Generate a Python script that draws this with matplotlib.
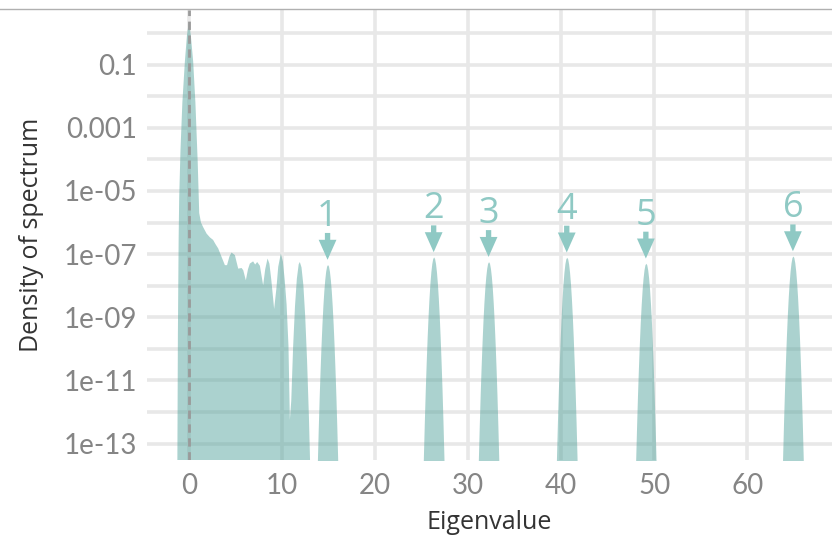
import matplotlib
matplotlib.use("Agg")
import matplotlib.pyplot as plt
from matplotlib.lines import Line2D
import numpy as np

plt.rcParams['font.family'] = ['Lato', 'DejaVu Sans']

# bulk of the spectrum: eigenvalue vs log10 density
bulk_x = [-1.25, -1.18, -1.10, -1.04, -0.90, -0.70, -0.43, -0.20, 0.00, 0.20,
          0.46, 0.70, 0.95, 1.11, 1.30, 1.54, 1.90, 2.26, 2.60, 2.85,
          3.15, 3.50, 3.87, 4.10, 4.35, 4.58, 4.94, 5.30, 5.66, 5.84,
          6.12, 6.35, 6.55, 6.90, 7.12, 7.34, 7.63, 7.98, 8.20, 8.45,
          8.65, 8.85, 9.05, 9.16, 9.40, 9.60, 9.88, 10.10, 10.30, 10.50,
          10.70, 10.85, 11.00, 11.20, 11.40, 11.60, 11.80, 11.92, 12.10, 12.30,
          12.50, 12.70, 12.90, 13.05, 13.15]
bulk_log = [-14.5, -9.5, -6.5, -5.2, -3.7, -2.2, -0.9, -0.05, 0.35, -0.05,
            -0.9, -2.2, -4.1, -5.7, -6.0, -6.15, -6.35, -6.47, -6.55, -6.68,
            -6.82, -7.08, -7.35, -7.35, -7.08, -6.95, -7.03, -7.46, -7.44, -7.51,
            -7.83, -7.48, -7.3, -7.23, -7.33, -7.25, -7.37, -7.99, -7.48, -7.14,
            -7.3, -7.8, -8.4, -8.74, -8.1, -7.4, -6.98, -7.23, -7.83, -8.6,
            -9.9, -12.25, -11.65, -9.94, -8.66, -7.78, -7.32, -7.25, -7.42, -7.98,
            -8.98, -10.38, -12.18, -13.9, -15.3]

# isolated outlier eigenvalues and their peak height (log10 density)
outlier_x = [14.9, 26.3, 32.2, 40.6, 49.1, 64.9]
outlier_log = [-7.33, -7.09, -7.24, -7.10, -7.29, -7.06]
outlier_labels = ['1', '2', '3', '4', '5', '6']

# shape of one outlier bump: distance from centre vs drop in decades
peak_dx = [0.0, 0.1, 0.2, 0.3, 0.4, 0.5, 0.6, 0.7, 0.8, 0.9, 1.0, 1.1, 1.2, 1.3]
peak_drop = [0.0, 0.05, 0.21, 0.47, 0.83, 1.3, 1.87, 2.55, 3.33, 4.2, 5.2, 6.3, 7.5, 8.8]

y_major = [-1, -3, -5, -7, -9, -11, -13]
y_labels = ['0.1', '0.001', '1e-05', '1e-07', '1e-09', '1e-11', '1e-13']
y_minor = [0, -2, -4, -6, -8, -10, -12]
x_ticks = [0, 10, 20, 30, 40, 50, 60]

fill_col = '#4da199'
mark_col = '#8fc9c4'
grid_col = '#e8e8e8'

fig = plt.figure(figsize=(8.32, 5.37), dpi=100)
ax = fig.add_axes([147 / 832, 77 / 537, 685 / 832, 450 / 537])

ax.set_yscale('log')
ax.set_xlim(-4.5, 69.1)
ax.set_ylim(10 ** -13.52, 10 ** 0.73)

floor = 1e-20
bx = np.array(bulk_x)
ax.fill_between(bx, 10 ** np.array(bulk_log), floor, color=fill_col, alpha=0.47, lw=0, zorder=2)

dx = np.array(peak_dx)
drop = np.array(peak_drop)
px = np.concatenate([-dx[::-1], dx[1:]])
pd = np.concatenate([drop[::-1], drop[1:]])
for cx, top in zip(outlier_x, outlier_log):
    ax.fill_between(cx + px, 10 ** (top - pd), floor, color=fill_col, alpha=0.47, lw=0, zorder=2)

# arrows and numbers over the outliers
for cx, top, lab in zip(outlier_x, outlier_log, outlier_labels):
    ax.annotate('', xy=(cx, 10 ** (top + 0.15)), xytext=(cx, 10 ** (top + 1.0)),
                arrowprops=dict(arrowstyle='simple,head_width=0.8,head_length=0.9,tail_width=0.24',
                                color=mark_col, lw=0, shrinkA=0, shrinkB=0, mutation_scale=16),
                zorder=4)
    ax.text(cx, 10 ** (top + 1.22), lab, ha='center', va='baseline',
            fontsize=26, color=mark_col, family=['Open Sans', 'DejaVu Sans'], zorder=4)

ax.axvline(0, color='#9a9a9a', lw=2, ls=(0, (3, 2)), zorder=3)

ax.set_yticks([10.0 ** e for e in y_major])
ax.set_yticklabels(y_labels)
ax.set_yticks([10.0 ** e for e in y_minor], minor=True)
ax.set_yticklabels([], minor=True)
ax.set_xticks(x_ticks)
ax.grid(True, which='both', axis='y', color=grid_col, lw=2.6, zorder=1)
ax.grid(True, which='major', axis='x', color=grid_col, lw=2.6, zorder=1)
ax.set_axisbelow(True)
ax.tick_params(which='both', length=0, labelsize=20, labelcolor='#858585')
ax.tick_params(axis='x', pad=9)
ax.tick_params(axis='y', pad=7)
for s in ax.spines.values():
    s.set_visible(False)

ax.set_xlabel('Eigenvalue', fontsize=18, color='#333333', labelpad=8,
              family=['Open Sans', 'DejaVu Sans'])
ax.set_ylabel('Density of spectrum', fontsize=18, color='#333333', labelpad=14,
              family=['Open Sans', 'DejaVu Sans'])

fig.add_artist(Line2D([0, 1], [1 - 9 / 537, 1 - 9 / 537], color='#b0b0b0', lw=1))

fig.savefig('out.png', dpi=100)
